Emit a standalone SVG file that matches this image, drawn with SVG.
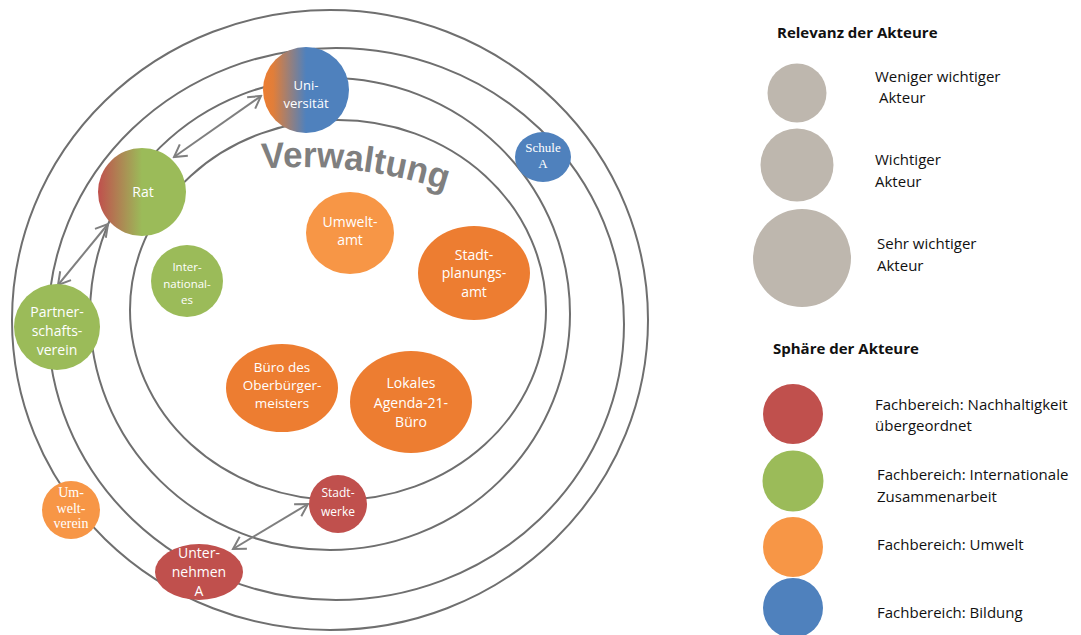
<svg xmlns="http://www.w3.org/2000/svg" width="1081" height="635" viewBox="0 0 1081 635">
<style>
.ring{fill:none;stroke:#6f6f6f;stroke-width:2}
.con{stroke:#7f7f7f;stroke-width:2;fill:none;marker-start:url(#ah);marker-end:url(#ah)}
.nt{font-family:"Open Sans","Noto Sans",sans-serif;fill:#fff;text-anchor:middle}
.st{font-family:"Liberation Serif","Times New Roman",serif;fill:#fff;text-anchor:middle}
.lt{font-family:"Open Sans","Noto Sans",sans-serif;fill:#111;font-size:15px}
.lh{font-family:"Open Sans","Noto Sans",sans-serif;fill:#111;font-size:15px;font-weight:bold}
.red{fill:#C0504D}.green{fill:#9BBB59}.orange{fill:#F79646}.dorange{fill:#ED7D31}.blue{fill:#4F81BD}.grey{fill:#BEB7AE}
</style>
<defs>
<marker id="ah" viewBox="-14 -9 16 18" refX="0" refY="0" markerWidth="16" markerHeight="18" markerUnits="userSpaceOnUse" orient="auto-start-reverse">
<path d="M-12,-7 L0,0 L-12,7" fill="none" stroke="#7f7f7f" stroke-width="2"/>
</marker>
<linearGradient id="gUni" x1="0" y1="0" x2="1" y2="0">
<stop offset="0" stop-color="#ED7D31"/>
<stop offset="0.12" stop-color="#E07E3A"/>
<stop offset="0.5" stop-color="#4F81BD"/>
<stop offset="1" stop-color="#4F81BD"/>
</linearGradient>
<linearGradient id="gRat" x1="0" y1="0" x2="1" y2="0">
<stop offset="0" stop-color="#C0504D"/>
<stop offset="0.5" stop-color="#9BBB59"/>
<stop offset="1" stop-color="#9BBB59"/>
</linearGradient>
<path id="arcV" d="M 262,168.6 A 465,465 0 0 1 455,193.6"/>
</defs>

<g id="rings">
<ellipse class="ring" cx="330" cy="320" rx="318" ry="310"/>
<ellipse class="ring" cx="336" cy="324" rx="288" ry="276"/>
<ellipse class="ring" cx="330" cy="314" rx="240" ry="236"/>
<ellipse class="ring" cx="338" cy="310" rx="208" ry="190"/>
</g>

<g id="verwaltung-label">
<text font-family="'Liberation Sans',Arial,sans-serif" font-weight="bold" font-size="36" fill="#7f7f7f"><textPath href="#arcV" textLength="186" lengthAdjust="spacingAndGlyphs">Verwaltung</textPath></text>
</g>

<g id="connectors">
<line class="con" x1="174" y1="157" x2="261" y2="96"/>
<line class="con" x1="58" y1="285" x2="108" y2="224"/>
<line class="con" x1="233" y1="549" x2="308" y2="504"/>
</g>

<g id="uni">
<circle cx="306" cy="90" r="43" fill="url(#gUni)"/>
<text class="nt" font-size="13" x="306" y="90">Uni-</text>
<text class="nt" font-size="13" x="306" y="108">versität</text>
</g>
<g id="rat">
<circle cx="142" cy="192" r="44" fill="url(#gRat)"/>
<text class="nt" font-size="14" x="143" y="197">Rat</text>
</g>
<g id="schule">
<ellipse class="blue" cx="543" cy="157" rx="28" ry="25"/>
<text class="st" font-size="13" x="543" y="152">Schule</text>
<text class="st" font-size="13" x="543" y="168">A</text>
</g>
<g id="partnerschaftsverein">
<circle class="green" cx="57" cy="327" r="43"/>
<text class="nt" font-size="14" x="57" y="317">Partner-</text>
<text class="nt" font-size="14" x="57" y="336">schafts-</text>
<text class="nt" font-size="14" x="57" y="355">verein</text>
</g>
<g id="umweltverein">
<circle class="orange" cx="71" cy="510" r="29"/>
<text class="st" font-size="14" x="71" y="497">Um-</text>
<text class="st" font-size="14" x="71" y="513">welt-</text>
<text class="st" font-size="14" x="71" y="528">verein</text>
</g>
<g id="unternehmen">
<ellipse class="red" cx="199" cy="572" rx="44" ry="28"/>
<text class="nt" font-size="14" x="199" y="558">Unter-</text>
<text class="nt" font-size="14" x="199" y="577">nehmen</text>
<text class="nt" font-size="14" x="199" y="596">A</text>
</g>
<g id="stadtwerke">
<circle class="red" cx="338" cy="504" r="29"/>
<text class="nt" font-size="12" x="338" y="497">Stadt-</text>
<text class="nt" font-size="12" x="338" y="516">werke</text>
</g>
<g id="internationales">
<circle class="green" cx="187" cy="281" r="36"/>
<text class="nt" font-size="11.5" x="187" y="271">Inter-</text>
<text class="nt" font-size="11.5" x="187" y="288">national-</text>
<text class="nt" font-size="11.5" x="187" y="304">es</text>
</g>
<g id="umweltamt">
<ellipse class="orange" cx="350" cy="233" rx="44" ry="41"/>
<text class="nt" font-size="14" x="350" y="227">Umwelt-</text>
<text class="nt" font-size="14" x="350" y="245">amt</text>
</g>
<g id="stadtplanungsamt">
<ellipse class="dorange" cx="474" cy="273" rx="56" ry="47"/>
<text class="nt" font-size="14" x="474" y="260">Stadt-</text>
<text class="nt" font-size="14" x="474" y="278">planungs-</text>
<text class="nt" font-size="14" x="474" y="297">amt</text>
</g>
<g id="buero-ob">
<ellipse class="dorange" cx="282" cy="388" rx="56" ry="44"/>
<text class="nt" font-size="13.5" x="282" y="372">Büro des</text>
<text class="nt" font-size="13.5" x="282" y="390">Oberbürger-</text>
<text class="nt" font-size="13.5" x="282" y="408">meisters</text>
</g>
<g id="agenda21">
<ellipse class="dorange" cx="411" cy="402" rx="61" ry="51"/>
<text class="nt" font-size="14" x="411" y="388">Lokales</text>
<text class="nt" font-size="14" x="411" y="408">Agenda-21-</text>
<text class="nt" font-size="14" x="411" y="427">Büro</text>
</g>

<g id="legend-relevanz">
<text class="lh" x="777" y="38">Relevanz der Akteure</text>
<circle class="grey" cx="797" cy="93" r="29.5"/>
<text class="lt" x="875" y="82">Weniger wichtiger</text>
<text class="lt" x="879" y="103">Akteur</text>
<circle class="grey" cx="797" cy="165" r="36.5"/>
<text class="lt" x="875" y="165">Wichtiger</text>
<text class="lt" x="875" y="187">Akteur</text>
<circle class="grey" cx="802" cy="258" r="49"/>
<text class="lt" x="877" y="249">Sehr wichtiger</text>
<text class="lt" x="877" y="271">Akteur</text>
</g>
<g id="legend-sphaere">
<text class="lh" x="773" y="354">Sphäre der Akteure</text>
<circle class="red" cx="793" cy="414" r="30"/>
<text class="lt" x="875" y="410">Fachbereich: Nachhaltigkeit</text>
<text class="lt" x="875" y="431">übergeordnet</text>
<circle class="green" cx="793" cy="481" r="30.5"/>
<text class="lt" x="877" y="480">Fachbereich: Internationale</text>
<text class="lt" x="877" y="502">Zusammenarbeit</text>
<circle class="orange" cx="793" cy="547" r="30"/>
<text class="lt" x="877" y="550">Fachbereich: Umwelt</text>
<circle class="blue" cx="793" cy="608" r="30"/>
<text class="lt" x="877" y="618">Fachbereich: Bildung</text>
</g>
</svg>
